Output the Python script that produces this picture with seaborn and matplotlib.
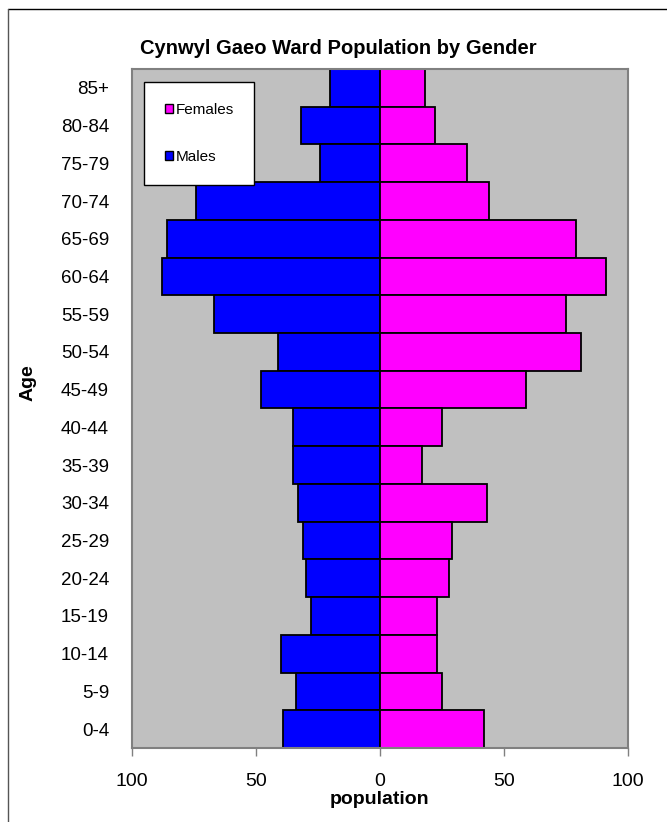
import pandas as pd
import matplotlib
matplotlib.use("Agg")
import matplotlib.pyplot as plt
from matplotlib.patches import Patch
from matplotlib.lines import Line2D
import seaborn as sns

# Age groups, top to bottom as drawn
ages = ["85+", "80-84", "75-79", "70-74", "65-69", "60-64", "55-59", "50-54",
        "45-49", "40-44", "35-39", "30-34", "25-29", "20-24", "15-19",
        "10-14", "5-9", "0-4"]
males = [20, 32, 24, 74, 86, 88, 67, 41, 48, 35, 35, 33, 31, 30, 28, 40, 34, 39]
females = [18, 22, 35, 44, 79, 91, 75, 81, 59, 25, 17, 43, 29, 28, 23, 23, 25, 42]
x_ticks = [-100, -50, 0, 50, 100]
x_tick_labels = ["100", "50", "0", "50", "100"]

# long table, males drawn to the left
df = pd.DataFrame({
    "Age": ages * 2,
    "Gender": ["Males"] * len(ages) + ["Females"] * len(ages),
    "Population": [-m for m in males] + females,
})

sns.set_style("white")
plt.rcParams["font.family"] = ["Liberation Sans", "DejaVu Sans"]
plt.rcParams["text.color"] = "black"
plt.rcParams["xtick.color"] = "black"
plt.rcParams["ytick.color"] = "black"
plt.rcParams["axes.labelcolor"] = "black"

fig = plt.figure(figsize=(6.67, 8.22), dpi=100)
ax = fig.add_axes([132 / 667, 1 - 748 / 822, 496 / 667, 679 / 822])

colors = {"Males": "#0000FF", "Females": "#FF00FF"}
sns.barplot(data=df, x="Population", y="Age", hue="Gender", order=ages,
            hue_order=["Males", "Females"], palette=colors, saturation=1,
            dodge=False, width=1.0, orient="h", edgecolor="black",
            linewidth=1.3, legend=False, ax=ax)

ax.set_facecolor("#C0C0C0")
ax.set_xlim(-100, 100)
ax.set_ylim(len(ages) - 0.5, -0.5)
for s in ax.spines.values():
    s.set_color("#808080")
    s.set_linewidth(1.5)

ax.set_xticks(x_ticks)
ax.set_xticklabels(x_tick_labels, fontsize=14)
ax.tick_params(axis="x", bottom=True, length=6, width=1, color="#808080",
               labelcolor="black", pad=12)
ax.tick_params(axis="y", left=False, labelsize=13.5, labelcolor="black", pad=13)

ax.set_xlabel("population", fontsize=14, fontweight="bold", labelpad=1)
ax.set_ylabel("Age", fontsize=14, fontweight="bold")
ax.yaxis.set_label_coords((37 - 132) / 496, (748 - 383) / 679)

fig.text(338 / 667, 1 - 48 / 822, "Cynwyl Gaeo Ward Population by Gender",
         ha="center", va="center", fontsize=14.5, fontweight="bold")

handles = [Patch(facecolor=colors["Females"], edgecolor="black", label="Females"),
           Patch(facecolor=colors["Males"], edgecolor="black", label="Males")]
leg = ax.legend(handles=handles, loc="upper left",
                bbox_to_anchor=((144 - 132) / 496, (748 - 82) / 679),
                fontsize=11, frameon=True, fancybox=False, shadow=False,
                handlelength=0.55, handleheight=0.55, handletextpad=0.15,
                labelspacing=2.2, borderpad=1.35, borderaxespad=0)
leg.get_frame().set_edgecolor("black")
leg.get_frame().set_linewidth(1)
leg.get_frame().set_facecolor("white")
leg.get_frame().set_alpha(1)

# outer chart border (only top and left fall inside the image)
fig.add_artist(Line2D([8 / 667, 1], [1 - 9 / 822, 1 - 9 / 822],
                      transform=fig.transFigure, color="black", lw=1))
fig.add_artist(Line2D([8 / 667, 8 / 667], [0, 1 - 9 / 822],
                      transform=fig.transFigure, color="#555555", lw=1))

fig.savefig("out.png", dpi=100, facecolor="white")
